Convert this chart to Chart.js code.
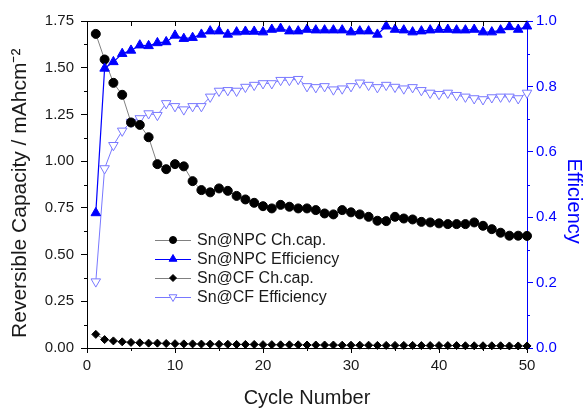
<!DOCTYPE html>
<html><head><meta charset="utf-8">
<script src="https://cdn.jsdelivr.net/npm/chart.js@4.4.1/dist/chart.umd.min.js"></script>
<style>html,body{margin:0;padding:0;background:#fff}#wrap{width:585px;height:410px;position:relative}</style>
</head><body><div id="wrap"><canvas id="c"></canvas></div>
<script>
const cycles = [1,2,3,4,5,6,7,8,9,10,11,12,13,14,15,16,17,18,19,20,21,22,23,24,25,26,27,28,29,30,31,32,33,34,35,36,37,38,39,40,41,42,43,44,45,46,47,48,49,50];
const npcCapacity = [1.681,1.544,1.419,1.355,1.207,1.194,1.128,0.984,0.957,0.984,0.972,0.893,0.845,0.833,0.854,0.841,0.814,0.795,0.777,0.759,0.747,0.766,0.756,0.747,0.747,0.738,0.720,0.715,0.738,0.726,0.715,0.702,0.681,0.679,0.702,0.693,0.688,0.675,0.672,0.667,0.663,0.663,0.663,0.672,0.654,0.636,0.617,0.601,0.601,0.600];
const npcEfficiency = [0.413,0.855,0.875,0.900,0.910,0.926,0.924,0.933,0.936,0.956,0.946,0.949,0.959,0.969,0.969,0.959,0.966,0.968,0.968,0.966,0.974,0.977,0.969,0.969,0.974,0.972,0.972,0.972,0.972,0.966,0.969,0.969,0.959,0.984,0.974,0.972,0.966,0.969,0.972,0.974,0.974,0.972,0.972,0.974,0.966,0.966,0.972,0.982,0.974,0.984];
const cfCapacity = [0.073,0.045,0.038,0.033,0.030,0.028,0.026,0.026,0.024,0.023,0.022,0.022,0.021,0.021,0.020,0.020,0.019,0.019,0.019,0.018,0.018,0.017,0.017,0.017,0.016,0.016,0.016,0.016,0.015,0.015,0.015,0.015,0.014,0.014,0.014,0.014,0.014,0.013,0.013,0.013,0.013,0.013,0.012,0.012,0.012,0.012,0.012,0.011,0.011,0.011];
const cfEfficiency = [0.203,0.549,0.620,0.664,0.691,0.702,0.717,0.712,0.748,0.739,0.729,0.739,0.739,0.768,0.786,0.788,0.786,0.798,0.804,0.809,0.809,0.819,0.819,0.822,0.800,0.797,0.800,0.790,0.793,0.800,0.811,0.804,0.797,0.804,0.798,0.793,0.797,0.788,0.780,0.776,0.780,0.773,0.768,0.763,0.760,0.766,0.768,0.768,0.763,0.780];
const seriesNames = ['Sn@NPC Ch.cap.','Sn@NPC Efficiency','Sn@CF Ch.cap.','Sn@CF Efficiency'];
const xTicks = [0,10,20,30,40,50];
const xMinorTicks = [5,15,25,35,45];
const topTicks = [5,10,15,20,25,30,35,40,45];
const leftTicks = [0,0.25,0.5,0.75,1.0,1.25,1.5,1.75];
const leftMinorTicks = [0.125,0.375,0.625,0.875,1.125,1.375,1.625];
const rightTicks = [0,0.2,0.4,0.6,0.8,1.0];
const rightMinorTicks = [0.1,0.3,0.5,0.7,0.9];

const FONT = '"Liberation Sans", Arial, Helvetica, sans-serif';
const BLUE = '#0000ff';
const LIGHTBLUE = '#7878ff';
const pts = arr => arr.map((v,i)=>({x:cycles[i], y:v}));

const legendMarks = ['circle','triangle','diamond','triangleDown'];

function drawMark(ctx, kind, x, y, r, fill, stroke){
  ctx.beginPath();
  if(kind==='circle'){ ctx.arc(x,y,r,0,Math.PI*2); }
  else if(kind==='triangle'){ ctx.moveTo(x,y-r); ctx.lineTo(x+r*0.866,y+r*0.5); ctx.lineTo(x-r*0.866,y+r*0.5); ctx.closePath(); }
  else if(kind==='triangleDown'){ ctx.moveTo(x,y+r); ctx.lineTo(x+r*0.866,y-r*0.5); ctx.lineTo(x-r*0.866,y-r*0.5); ctx.closePath(); }
  else if(kind==='diamond'){ ctx.moveTo(x,y-r); ctx.lineTo(x+r,y); ctx.lineTo(x,y+r); ctx.lineTo(x-r,y); ctx.closePath(); }
  ctx.fillStyle=fill; ctx.fill();
  ctx.lineWidth=1; ctx.strokeStyle=stroke; ctx.stroke();
}

const extras = {
  id:'extras',
  afterDraw(chart){
    const {ctx, chartArea:a, scales:{x,y,y1}} = chart;
    ctx.save();
    ctx.lineWidth=1;
    ctx.strokeStyle='#000';
    ctx.beginPath();
    ctx.moveTo(a.left, a.top+0.5); ctx.lineTo(a.right, a.top+0.5);
    topTicks.forEach(v=>{const px=Math.round(x.getPixelForValue(v))+0.5; ctx.moveTo(px,a.top); ctx.lineTo(px,a.top+5);});
    xMinorTicks.forEach(v=>{const px=Math.round(x.getPixelForValue(v))+0.5; ctx.moveTo(px,a.bottom); ctx.lineTo(px,a.bottom+3);});
    leftMinorTicks.forEach(v=>{const py=Math.round(y.getPixelForValue(v))+0.5; ctx.moveTo(a.left,py); ctx.lineTo(a.left-3,py);});
    ctx.stroke();
    ctx.strokeStyle=BLUE;
    ctx.beginPath();
    rightMinorTicks.forEach(v=>{const py=Math.round(y1.getPixelForValue(v))+0.5; ctx.moveTo(a.right,py); ctx.lineTo(a.right+3,py);});
    ctx.stroke();
    // legend
    const rows=[240,259,278,297];
    chart.data.datasets.forEach((ds,i)=>{
      const ry=rows[i];
      ctx.beginPath(); ctx.strokeStyle=ds.borderColor; ctx.lineWidth=1;
      ctx.moveTo(155,ry+0.5); ctx.lineTo(191,ry+0.5); ctx.stroke();
      const k=legendMarks[i];
      const r = k==='circle'?3.5:(k==='diamond'?3.5:4.5);
      drawMark(ctx,k,173,ry,r,ds.pointBackgroundColor,ds.pointBorderColor);
      ctx.font='16px '+FONT; ctx.fillStyle='#1a1a1a'; ctx.textBaseline='middle'; ctx.textAlign='left';
      ctx.fillText(ds.label,197,ry+1);
    });
    ctx.restore();
  }
};

new Chart(document.getElementById('c'), {
  type:'line',
  data:{datasets:[
    {label:seriesNames[0], data:pts(npcCapacity), yAxisID:'y', borderColor:'#808080', borderWidth:1,
     pointStyle:'circle', pointRadius:4.5, pointBackgroundColor:'#000', pointBorderColor:'#000', pointBorderWidth:1, order:2},
    {label:seriesNames[1], data:pts(npcEfficiency), yAxisID:'y1', borderColor:BLUE, borderWidth:1.2,
     pointStyle:'triangle', pointRadius:5.5, pointBackgroundColor:BLUE, pointBorderColor:BLUE, pointBorderWidth:1, order:1},
    {label:seriesNames[2], data:pts(cfCapacity), yAxisID:'y', borderColor:'#808080', borderWidth:1,
     pointStyle:'rectRot', pointRadius:4, pointBackgroundColor:'#000', pointBorderColor:'#000', pointBorderWidth:1, order:3},
    {label:seriesNames[3], data:pts(cfEfficiency), yAxisID:'y1', borderColor:LIGHTBLUE, borderWidth:1,
     pointStyle:'triangle', pointRotation:180, pointRadius:5.5, pointBackgroundColor:'#fff', pointBorderColor:LIGHTBLUE, pointBorderWidth:1, order:4}
  ]},
  options:{
    responsive:true, maintainAspectRatio:false, animation:false,
    layout:{padding:{top:21,left:0,right:0,bottom:0}},
    elements:{line:{tension:0}},
    datasets:{line:{clip:false}},
    plugins:{legend:{display:false}, tooltip:{enabled:false}},
    scales:{
      x:{type:'linear', min:0, max:50,
        afterBuildTicks:s=>{s.ticks=xTicks.map(v=>({value:v}));},
        afterFit:s=>{s.height=62;},
        grid:{display:true, drawOnChartArea:false, drawTicks:true, tickLength:5, color:'#000'},
        border:{display:true, color:'#000', width:1},
        ticks:{padding:4, color:'#1a1a1a', font:{family:FONT, size:15}, callback:v=>String(v), maxRotation:0},
        title:{display:true, text:'Cycle Number', color:'#1a1a1a', font:{family:FONT, size:20, lineHeight:1.2}, padding:{top:0,bottom:0}}
      },
      y:{type:'linear', position:'left', min:0, max:1.75,
        afterBuildTicks:s=>{s.ticks=leftTicks.map(v=>({value:v}));},
        afterFit:s=>{s.width=87;},
        grid:{display:true, drawOnChartArea:false, drawTicks:true, tickLength:6, color:'#000'},
        border:{display:true, color:'#000', width:1},
        ticks:{padding:7, color:'#1a1a1a', font:{family:FONT, size:15}, callback:v=>Number(v).toFixed(2)},
        title:{display:true, text:'Reversible Capacity / mAhcm\u207B\u00B2   ', color:'#1a1a1a', font:{family:FONT, size:21, lineHeight:1.2}, padding:{top:8,bottom:0}}
      },
      y1:{type:'linear', position:'right', min:0, max:1.0,
        afterBuildTicks:s=>{s.ticks=rightTicks.map(v=>({value:v}));},
        afterFit:s=>{s.width=58;},
        grid:{display:true, drawOnChartArea:false, drawTicks:true, tickLength:6, color:BLUE},
        border:{display:true, color:BLUE, width:1},
        ticks:{padding:3, color:BLUE, font:{family:FONT, size:15}, callback:v=>Number(v).toFixed(1)},
        title:{display:true, text:'      Efficiency', color:BLUE, font:{family:FONT, size:20, lineHeight:1.2}, padding:{top:-1,bottom:0}}
      }
    }
  },
  plugins:[extras]
});
</script>
</body></html>
